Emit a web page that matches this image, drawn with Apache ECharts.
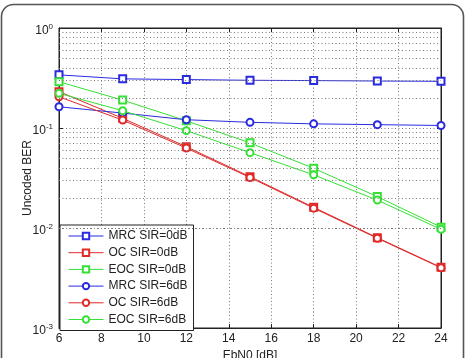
<!DOCTYPE html>
<html>
<head>
<meta charset="utf-8">
<script src="https://cdn.jsdelivr.net/npm/echarts@6/dist/echarts.min.js"></script>
<style>html,body{margin:0;padding:0;background:#fff}#c{width:467px;height:358px}</style>
</head>
<body>
<div id="c"></div>
<script>
var ebn0 = [6, 9, 12, 15, 18, 21, 24];
var mrc0 = [0.34, 0.31, 0.305, 0.30, 0.298, 0.295, 0.293];
var oc0  = [0.231, 0.125, 0.065, 0.0326, 0.0161, 0.0080, 0.00404];
var eoc0 = [0.29, 0.19, 0.118, 0.071, 0.0395, 0.0206, 0.0102];
var mrc6 = [0.163, 0.141, 0.121, 0.114, 0.110, 0.108, 0.106];
var oc6  = [0.205, 0.12, 0.063, 0.032, 0.0158, 0.0079, 0.0040];
var eoc6 = [0.222, 0.149, 0.094, 0.0567, 0.034, 0.019, 0.0097];
var names = ['MRC SIR=0dB', 'OC SIR=0dB', 'EOC SIR=0dB', 'MRC SIR=6dB', 'OC SIR=6dB', 'EOC SIR=6dB'];
var minorGrid = [0.002,0.003,0.004,0.005,0.006,0.007,0.008,0.009,
                 0.02,0.03,0.04,0.05,0.06,0.07,0.08,0.09,
                 0.2,0.3,0.4,0.5,0.6,0.7,0.8,0.9];

var BLUE = '#2a2ae0', RED = '#e02a2a', GREEN = '#36e036';
var FONT = 'Liberation Sans, Arial, sans-serif';
var gridStyle = {color: '#7a7a7a', width: 1, type: [1, 2.5]};

function pairs(ys) { return ys.map(function (y, i) { return [ebn0[i], y]; }); }
function mk(name, ys, color, sym) {
  return {
    name: name, type: 'line', data: pairs(ys),
    symbol: sym, symbolSize: 7,
    lineStyle: {color: color, width: 1},
    itemStyle: {color: color, borderWidth: 1},
    emphasis: {disabled: true}, animation: false, z: 3
  };
}

var series = [
  mk(names[0], mrc0, BLUE, 'emptyRect'),
  mk(names[1], oc0, RED, 'emptyRect'),
  mk(names[2], eoc0, GREEN, 'emptyRect'),
  mk(names[3], mrc6, BLUE, 'emptyCircle'),
  mk(names[4], oc6, RED, 'emptyCircle'),
  mk(names[5], eoc6, GREEN, 'emptyCircle')
];
series[0].markLine = {
  silent: true, symbol: ['none', 'none'], animation: false,
  label: {show: false},
  lineStyle: gridStyle,
  data: minorGrid.map(function (v) { return {yAxis: v}; })
};

var chart = echarts.init(document.getElementById('c'), null, {renderer: 'canvas'});
chart.setOption({
  animation: false,
  textStyle: {fontFamily: FONT},
  grid: {left: 59, right: 26, top: 28, bottom: 30, outerBoundsMode: 'none', containLabel: false,
         show: true, borderColor: '#222', borderWidth: 1, backgroundColor: '#fff'},
  graphic: [{
    type: 'rect', silent: true, z: -1,
    shape: {x: 1.5, y: 4.5, width: 462, height: 420, r: 12},
    style: {fill: 'none', stroke: '#555', lineWidth: 1.6}
  }],
  legend: {
    orient: 'vertical', left: 60, top: 225,
    padding: [5, 6, 5, 8], itemGap: 4.7, itemWidth: 35, itemHeight: 8,
    backgroundColor: '#fff', borderColor: '#222', borderWidth: 1,
    lineStyle: {width: 1},
    itemStyle: {borderWidth: 1},
    textStyle: {fontFamily: FONT, fontSize: 12, lineHeight: 12, color: '#222'},
    data: names
  },
  xAxis: [{
    type: 'value', min: 6, max: 24, interval: 2,
    name: 'EbN0 [dB]', nameLocation: 'middle', nameGap: 22, nameMoveOverlap: false,
    nameTextStyle: {fontFamily: FONT, fontSize: 12, color: '#222'},
    axisLine: {lineStyle: {color: '#222'}},
    axisTick: {inside: true, length: 4, lineStyle: {color: '#222'}},
    axisLabel: {fontFamily: FONT, fontSize: 12, color: '#222', margin: 5},
    splitLine: {show: true, lineStyle: gridStyle}
  }, {
    type: 'value', min: 6, max: 24, interval: 2, position: 'top',
    axisLine: {lineStyle: {color: '#222'}},
    axisTick: {inside: true, length: 4, lineStyle: {color: '#222'}},
    axisLabel: {show: false}, splitLine: {show: false}
  }],
  yAxis: [{
    type: 'log', logBase: 10, min: 0.001, max: 1,
    name: 'Uncoded BER', nameLocation: 'middle', nameGap: 25, nameMoveOverlap: false,
    nameTextStyle: {fontFamily: FONT, fontSize: 12, color: '#222'},
    axisLine: {show: true, lineStyle: {color: '#222'}},
    axisTick: {inside: true, length: 4, lineStyle: {color: '#222'}},
    splitLine: {show: true, lineStyle: gridStyle},
    axisLabel: {
      margin: 6, color: '#222', padding: [4, 0, 0, 0],
      formatter: function (v) {
        var e = Math.round(Math.log10(v));
        return '{b|10}{s|' + e + '}';
      },
      rich: {
        b: {fontFamily: FONT, fontSize: 12, color: '#222', verticalAlign: 'bottom', lineHeight: 14},
        s: {fontFamily: FONT, fontSize: 8, color: '#222', verticalAlign: 'top', lineHeight: 14}
      }
    }
  }, {
    type: 'log', logBase: 10, min: 0.001, max: 1, position: 'right',
    axisLine: {show: true, lineStyle: {color: '#222'}},
    axisTick: {inside: true, length: 4, lineStyle: {color: '#222'}},
    axisLabel: {show: false}, splitLine: {show: false}
  }],
  series: series
});
</script>
</body>
</html>
